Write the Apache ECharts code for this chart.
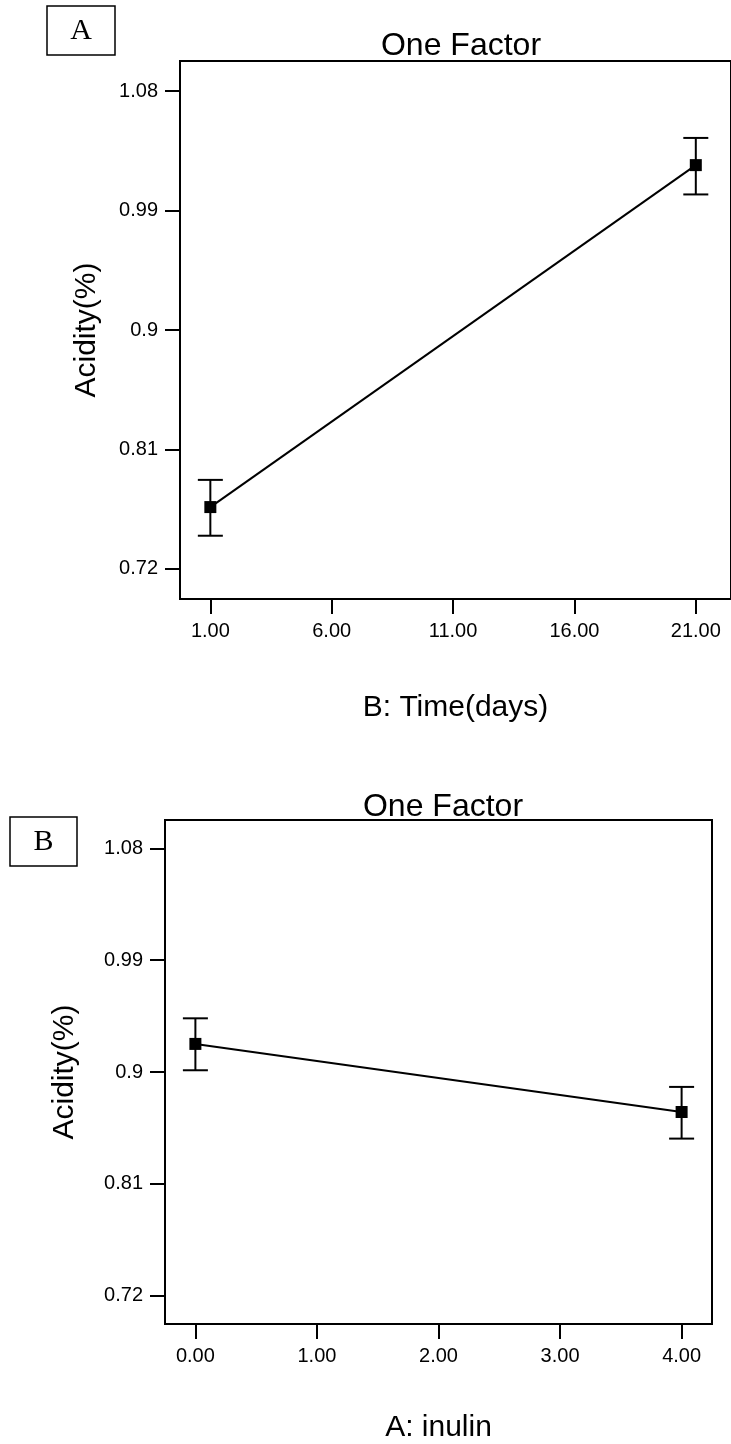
<!DOCTYPE html>
<html>
<head>
<meta charset="utf-8">
<script src="https://cdn.jsdelivr.net/npm/echarts@6/dist/echarts.min.js"></script>
<style>
  html, body { margin: 0; padding: 0; background: #fff; }
  #main { width: 731px; height: 1444px; }
</style>
</head>
<body>
<div id="main"></div>
<script>
// panel A: acidity against storage time
const timeDays = [1, 21];
const timeAcidity = [0.7665, 1.0243];
const timeLow = [0.7449, 1.0022];
const timeHigh = [0.787, 1.0448];
const timeTicks = [1, 6, 11, 16, 21];

// panel B: acidity against inulin level
const inulinLevel = [0, 4];
const inulinAcidity = [0.9226, 0.8678];
const inulinLow = [0.9014, 0.8464];
const inulinHigh = [0.9432, 0.888];
const inulinTicks = [0, 1, 2, 3, 4];

const acidityTicks = [0.72, 0.81, 0.9, 0.99, 1.08];
const acidityTickLabels = ['0.72', '0.81', '0.9', '0.99', '1.08'];

const FONT = 'Liberation Sans, Arial, sans-serif';
const SERIF = 'Liberation Serif, Times New Roman, serif';

const chart = echarts.init(document.getElementById('main'), null, { renderer: 'canvas' });

const xAxisBase = (gridIndex, min, max, ticks, name, nameGap) => ({
    type: 'value',
    gridIndex: gridIndex,
    min: min,
    max: max,
    name: name,
    nameLocation: 'middle',
    nameGap: nameGap,
    nameTextStyle: { color: '#000', fontSize: 30, fontFamily: FONT },
    splitLine: { show: false },
    axisLine: { show: true, onZero: false, lineStyle: { color: '#000', width: 2 } },
    axisTick: { show: true, length: 15, lineStyle: { color: '#000', width: 2 }, customValues: ticks },
    axisLabel: {
        color: '#000', fontSize: 20, fontFamily: FONT, margin: 22,
        customValues: ticks,
        formatter: v => v.toFixed(2)
    }
});

const yAxisBase = (gridIndex, nameGap) => ({
    type: 'value',
    gridIndex: gridIndex,
    min: 0.6972,
    max: 1.1028,
    name: 'Acidity(%)',
    nameLocation: 'middle',
    nameGap: nameGap,
    nameRotate: 90,
    nameTextStyle: { color: '#000', fontSize: 30, fontFamily: FONT },
    splitLine: { show: false },
    axisLine: { show: true, onZero: false, lineStyle: { color: '#000', width: 2 } },
    axisTick: { show: true, length: 15, lineStyle: { color: '#000', width: 2 }, customValues: acidityTicks },
    axisLabel: {
        color: '#000', fontSize: 20, fontFamily: FONT, margin: 22,
        customValues: acidityTicks,
        formatter: v => {
            const i = acidityTicks.findIndex(t => Math.abs(t - v) < 1e-6);
            return i >= 0 ? acidityTickLabels[i] : '';
        }
    }
});

const errorBars = (xs, lows, highs, idx) => ({
    type: 'custom',
    xAxisIndex: idx,
    yAxisIndex: idx,
    silent: true,
    z: 3,
    data: xs.map((x, i) => [x, lows[i], highs[i]]),
    encode: { x: 0, y: [1, 2] },
    renderItem: (params, api) => {
        const x = api.value(0);
        const lo = api.coord([x, api.value(1)]);
        const hi = api.coord([x, api.value(2)]);
        const hw = 12.5;
        const style = { stroke: '#000', lineWidth: 2 };
        return {
            type: 'group',
            children: [
                { type: 'line', shape: { x1: lo[0], y1: lo[1], x2: hi[0], y2: hi[1] }, style: style },
                { type: 'line', shape: { x1: lo[0] - hw, y1: lo[1], x2: lo[0] + hw, y2: lo[1] }, style: style },
                { type: 'line', shape: { x1: hi[0] - hw, y1: hi[1], x2: hi[0] + hw, y2: hi[1] }, style: style }
            ]
        };
    }
});

const meanLine = (xs, ys, idx) => ({
    type: 'line',
    xAxisIndex: idx,
    yAxisIndex: idx,
    data: xs.map((x, i) => [x, ys[i]]),
    symbol: 'rect',
    symbolSize: 12,
    z: 4,
    itemStyle: { color: '#000' },
    lineStyle: { color: '#000', width: 2 },
    animation: false
});

const option = {
    backgroundColor: '#fff',
    animation: false,
    title: [
        { text: 'One Factor', left: 456, top: 25, textAlign: 'center',
          textStyle: { color: '#000', fontSize: 32, fontWeight: 'normal', fontFamily: FONT } },
        { text: 'One Factor', left: 438, top: 786, textAlign: 'center',
          textStyle: { color: '#000', fontSize: 32, fontWeight: 'normal', fontFamily: FONT } }
    ],
    grid: [
        // panel A's frame runs a few px past the page edge, so its right side is not seen
        { left: 180, top: 61, width: 558, height: 538, show: true, borderColor: '#000', borderWidth: 2, containLabel: false },
        { left: 165, top: 820, width: 547, height: 508, show: true, borderColor: '#000', borderWidth: 2, containLabel: false }
    ],
    xAxis: [
        xAxisBase(0, -0.25, 22.45, timeTicks, 'B: Time(days)', 94),
        xAxisBase(1, -0.25, 4.25, inulinTicks, 'A: inulin', 89)
    ],
    yAxis: [
        yAxisBase(0, 78),
        yAxisBase(1, 85)
    ],
    graphic: [
        { type: 'rect', shape: { x: 47, y: 6, width: 68, height: 49 },
          style: { fill: '#fff', stroke: '#000', lineWidth: 1.5 } },
        { type: 'text', x: 81, y: 31,
          style: { text: 'A', font: '30px ' + SERIF, fill: '#000', align: 'center', verticalAlign: 'middle' } },
        { type: 'rect', shape: { x: 10, y: 817, width: 67, height: 49 },
          style: { fill: '#fff', stroke: '#000', lineWidth: 1.5 } },
        { type: 'text', x: 43.5, y: 842,
          style: { text: 'B', font: '30px ' + SERIF, fill: '#000', align: 'center', verticalAlign: 'middle' } }
    ],
    series: [
        errorBars(timeDays, timeLow, timeHigh, 0),
        meanLine(timeDays, timeAcidity, 0),
        errorBars(inulinLevel, inulinLow, inulinHigh, 1),
        meanLine(inulinLevel, inulinAcidity, 1)
    ]
};

chart.setOption(option);
window.addEventListener('resize', () => chart.resize());
</script>
</body>
</html>
